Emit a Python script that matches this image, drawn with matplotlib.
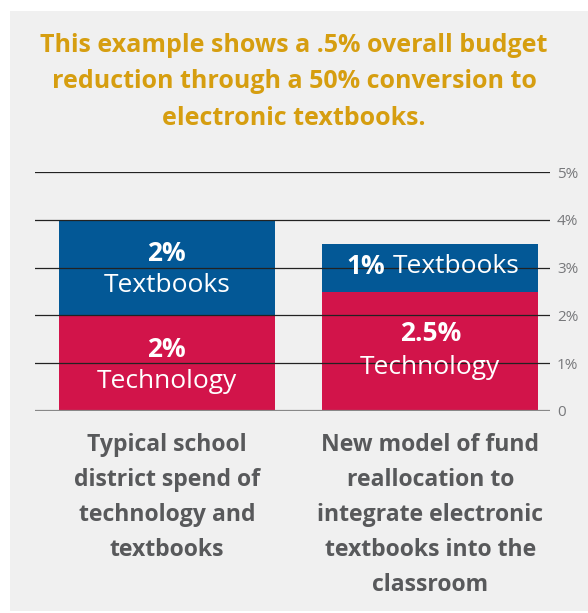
import matplotlib.pyplot as plt
from matplotlib.patches import Rectangle

categories = ['Typical school\ndistrict spend of\ntechnology and\ntextbooks',
              'New model of fund\nreallocation to\nintegrate electronic\ntextbooks into the\nclassroom']
technology = [2, 2.5]
textbooks = [2, 1]
tech_labels = ['2%', '2.5%']
text_labels = ['2%', '1%']
yticks = [0, 1, 2, 3, 4, 5]
ytick_labels = ['0', '1%', '2%', '3%', '4%', '5%']

red = '#d2144a'
blue = '#035896'
gold = '#d69e10'
gray = '#58595b'
panel = '#f0f0f0'
font = 'Open Sans'

W, H = 588, 613
fig = plt.figure(figsize=(W / 100, H / 100), dpi=100)
fig.patch.set_facecolor('white')
fig.patches.append(Rectangle((10 / W, 2 / H), 1 - 10 / W, 1 - 13 / H,
                             transform=fig.transFigure, facecolor=panel,
                             edgecolor='none', zorder=-10))

ax = fig.add_axes([35 / W, (H - 411) / H, 515 / W, (411 - 172) / H])
ax.set_facecolor('none')
ax.set_xlim(-0.5, 1.454)
ax.set_ylim(0, 5)

x = [0, 1]
w = 0.82
ax.bar(x, technology, width=w, color=red, zorder=1)
ax.bar(x, textbooks, width=w, bottom=technology, color=blue, zorder=1)

for v in yticks[1:]:
    ax.axhline(v, color='#222222', lw=0.9, zorder=2)
ax.axhline(0, color='#888888', lw=1.6, zorder=2)

for s in ax.spines.values():
    s.set_visible(False)
ax.set_xticks([])
ax.yaxis.tick_right()
ax.set_yticks(yticks)
ax.set_yticklabels(ytick_labels, fontfamily=font, fontsize=11, color='#77787b')
ax.tick_params(axis='y', length=0, pad=5)

fs = 19
lab = dict(color='white', fontsize=fs, fontfamily=font, zorder=3, va='center')

# left bar
ax.text(0, 3.29, text_labels[0], ha='center', fontweight='bold', **lab)
ax.text(0, 2.625, 'Textbooks', ha='center', **lab)
ax.text(0, 1.29, tech_labels[0], ha='center', fontweight='bold', **lab)
ax.text(0, 0.625, 'Technology', ha='center', **lab)

# right bar
ax.annotate(text_labels[1], xy=(1, 3.02), xytext=(-32.8, 0), textcoords='offset points',
            ha='right', fontweight='bold', **lab)
ax.annotate('Textbooks', xy=(1, 3.02), xytext=(-27, 0), textcoords='offset points',
            ha='left', **lab)
ax.text(1, 1.625, tech_labels[1], ha='center', fontweight='bold', **lab)
ax.text(1, 0.92, 'Technology', ha='center', **lab)

for xi, cat in zip(x, categories):
    ax.text(xi, -0.47, cat, ha='center', va='top', color=gray, fontsize=16.6,
            fontweight='bold', fontfamily=font, linespacing=1.6)

fig.text(0.5, 1 - 82 / H,
         'This example shows a .5% overall budget\nreduction through a 50% conversion to\nelectronic textbooks.',
         ha='center', va='center', color=gold, fontsize=18, fontweight='bold',
         fontfamily=font, linespacing=1.6)

fig.savefig('out.png', dpi=100, facecolor=fig.get_facecolor())
